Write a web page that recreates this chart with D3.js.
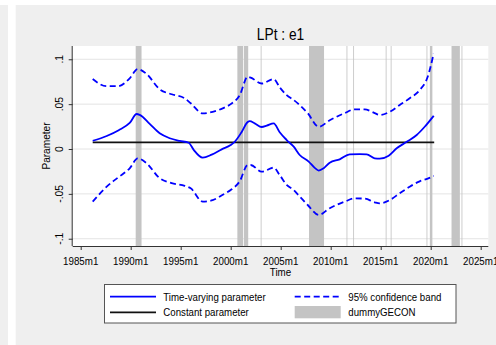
<!DOCTYPE html>
<html><head><meta charset="utf-8">
<script src="https://cdn.jsdelivr.net/npm/d3@7"></script>
<style>body{margin:0;background:#fff}svg{display:block}text{font-family:"Liberation Sans",Arial,sans-serif;fill:#000}</style>
</head><body><svg id="c" width="496" height="345"></svg>
<script>
// ---- data ----
const tvTime = [1986.2,1987.6,1988.8,1989.9,1990.6,1990.9,1991.9,1992.9,1993.9,1994.9,1995.8,1996.3,1997.2,1998.1,1999.1,2000.0,2000.4,2001.1,2001.7,2001.9,2002.4,2003.1,2003.6,2004.3,2004.9,2005.6,2006.3,2006.9,2007.8,2008.4,2008.8,2009.3,2009.9,2010.9,2011.9,2012.9,2013.6,2014.4,2014.9,2015.8,2016.6,2017.6,2018.6,2019.4,2020.3];
const tvValue = [0.0092,0.0145,0.021,0.029,0.039,0.038,0.028,0.0175,0.012,0.009,0.007,-0.001,-0.0097,-0.0063,-0.0004,0.0045,0.008,0.019,0.030,0.031,0.0286,0.0245,0.026,0.0286,0.0186,0.010,0.0026,-0.0067,-0.014,-0.021,-0.024,-0.0215,-0.0153,-0.0115,-0.0059,-0.0056,-0.0059,-0.0104,-0.0107,-0.0074,0.0008,0.008,0.0156,0.0248,0.037];
const bandTime = [1986.2,1987.6,1988.7,1989.9,1990.7,1991.6,1992.9,1994.1,1995.4,1996.0,1997.2,1998.2,1999.2,2000.0,2000.9,2001.7,2002.0,2003.1,2004.3,2004.9,2005.6,2006.3,2006.9,2007.7,2008.8,2009.9,2011.4,2012.4,2013.4,2014.4,2014.9,2015.9,2016.9,2017.9,2018.9,2019.7,2020.3];
const upperBand = [0.078,0.070,0.070,0.0787,0.089,0.0835,0.0665,0.061,0.0565,0.051,0.0397,0.0415,0.0453,0.050,0.060,0.0805,0.0795,0.073,0.078,0.0687,0.060,0.0546,0.049,0.040,0.0248,0.032,0.040,0.0442,0.0442,0.040,0.038,0.0415,0.049,0.0565,0.0657,0.0805,0.1065];
const lowerBand = [-0.0587,-0.042,-0.032,-0.0215,-0.0104,-0.016,-0.0326,-0.038,-0.041,-0.0438,-0.0587,-0.057,-0.051,-0.0457,-0.036,-0.0178,-0.0178,-0.0253,-0.0208,-0.029,-0.040,-0.0457,-0.053,-0.0624,-0.0735,-0.066,-0.0587,-0.055,-0.0553,-0.0594,-0.0606,-0.057,-0.0493,-0.042,-0.036,-0.033,-0.030];
const constTime = [1986.2, 2020.35];
const constValue = [0.0075, 0.0075];
// dummyGECON periods (start month, end month)
const geconStart = ["1990m7","2000m9","2001m5","2003m1","2007m11","2011m8","2012m4","2015m7","2016m1","2019m8","2019m12","2022m2","2023m2"];
const geconEnd   = ["1991m1","2001m3","2001m9","2003m1","2009m4","2011m8","2012m4","2015m7","2016m1","2019m8","2020m2","2022m11","2023m2"];
const xTickValues = [1985,1990,1995,2000,2005,2010,2015,2020,2025];
const xTickLabels = ["1985m1","1990m1","1995m1","2000m1","2005m1","2010m1","2015m1","2020m1","2025m1"];
const yTickValues = [0.1,0.05,0,-0.05,-0.1];
const yTickLabels = [".1",".05","0","-.05","-.1"];
const titleText = "LPt : e1";
const xTitle = "Time", yTitle = "Parameter";
const legendLabels = ["Time-varying parameter","95% confidence band","Constant parameter","dummyGECON"];

// ---- layout ----
const svg = d3.select("#c");
const L = 72.7, R = 488.3, T = 46, B = 246;
const SX = 0.85;
const blue = "#0000ff", barCol = "#c4c4c4", panel = "#efefef";
const x = d3.scaleLinear().domain([1984.2, 2025.76]).range([L, R]);
const y = d3.scaleLinear().domain([-0.1081, 0.1148]).range([B, T]);
const ym = s => { const [a,b] = s.split("m"); return +a + (+b - 1) / 12; };

// backgrounds
svg.append("rect").attr("x",0).attr("y",5).attr("width",8).attr("height",340).attr("fill",panel);
svg.append("rect").attr("x",15.7).attr("y",5).attr("width",496-15.7).attr("height",340).attr("fill",panel);
svg.append("rect").attr("x",L).attr("y",T).attr("width",R-L).attr("height",B-T).attr("fill","#fff");

// gridlines
svg.append("g").selectAll("line").data(yTickValues).join("line")
  .attr("x1",L).attr("x2",R).attr("y1",d=>y(d)).attr("y2",d=>y(d))
  .attr("stroke","#e4e4e4").attr("stroke-width",1);

// gecon bars
svg.append("g").selectAll("rect").data(geconStart.map((s,i)=>[ym(s), ym(geconEnd[i]) + 1/12])).join("rect")
  .attr("x",d=>x(d[0])).attr("width",d=>x(d[1])-x(d[0]))
  .attr("y",T).attr("height",B-T).attr("fill",barCol);

function txt(g, px, py, s, size, anchor, rot, sx) {
  return g.append("text").attr("transform",`translate(${px},${py}) rotate(${rot||0}) scale(${sx||SX},1)`)
    .attr("font-size",size).attr("text-anchor",anchor||"middle").text(s);
}

// lines
const line = d3.line().x(d=>x(d[0])).y(d=>y(d[1])).curve(d3.curveMonotoneX);
const zip = (a,b) => a.map((v,i)=>[v,b[i]]);
svg.append("path").attr("d",line(zip(constTime,constValue))).attr("fill","none").attr("stroke","#111").attr("stroke-width",1.7);
svg.append("path").attr("d",line(zip(bandTime,upperBand))).attr("fill","none").attr("stroke",blue).attr("stroke-width",1.8).attr("stroke-dasharray","6,3.5");
svg.append("path").attr("d",line(zip(bandTime,lowerBand))).attr("fill","none").attr("stroke",blue).attr("stroke-width",1.8).attr("stroke-dasharray","6,3.5");
svg.append("path").attr("d",line(zip(tvTime,tvValue))).attr("fill","none").attr("stroke",blue).attr("stroke-width",1.8);

// axes
const ax = svg.append("g").attr("transform",`translate(0,${B})`)
  .call(d3.axisBottom(x).tickValues(xTickValues).tickSize(4).tickFormat(""));
ax.select(".domain").attr("stroke","#333").attr("d",`M${L},0.5H${R}`);
ax.selectAll(".tick line").attr("stroke","#333");
const ay = svg.append("g").attr("transform",`translate(${L},0)`)
  .call(d3.axisLeft(y).tickValues(yTickValues).tickSize(4).tickFormat(""));
ay.select(".domain").attr("stroke","#333").attr("d",`M-0.5,${T}V${B}`);
ay.selectAll(".tick line").attr("stroke","#333");

const tg = svg.append("g");
xTickValues.forEach((v,i)=>txt(tg, x(v), 265, xTickLabels[i], 11.5, "middle"));
yTickValues.forEach((v,i)=>txt(tg, 62.7, y(v), yTickLabels[i], 11.5, "middle", -90, 0.9));
txt(tg, (L+R)/2, 276, xTitle, 11.5, "middle");
txt(tg, 50, (T+B)/2, yTitle, 11.5, "middle", -90, 0.88);
txt(tg, (L+R)/2, 40, titleText, 16, "middle", 0, 0.86);

// legend
const lg = svg.append("g");
lg.append("rect").attr("x",104.5).attr("y",284.5).attr("width",351.5).attr("height",38.5).attr("fill","#fff").attr("stroke","#555").attr("stroke-width",1);
const r1 = 296.7, r2 = 312.3;
lg.append("line").attr("x1",110).attr("x2",156).attr("y1",r1).attr("y2",r1).attr("stroke",blue).attr("stroke-width",1.8);
lg.append("line").attr("x1",110).attr("x2",156).attr("y1",r2).attr("y2",r2).attr("stroke","#111").attr("stroke-width",1.7);
lg.append("line").attr("x1",294.7).attr("x2",340.7).attr("y1",r1).attr("y2",r1).attr("stroke",blue).attr("stroke-width",1.8).attr("stroke-dasharray","6,3.5");
lg.append("rect").attr("x",294.7).attr("y",306).attr("width",46).attr("height",12.3).attr("fill",barCol);
txt(lg, 163.3, r1+4, legendLabels[0], 11, "start", 0, 0.88);
txt(lg, 348.3, r1+4, legendLabels[1], 11, "start", 0, 0.88);
txt(lg, 163.3, r2+4, legendLabels[2], 11, "start", 0, 0.88);
txt(lg, 348.3, r2+4, legendLabels[3], 11, "start", 0, 0.88);
</script></body></html>
